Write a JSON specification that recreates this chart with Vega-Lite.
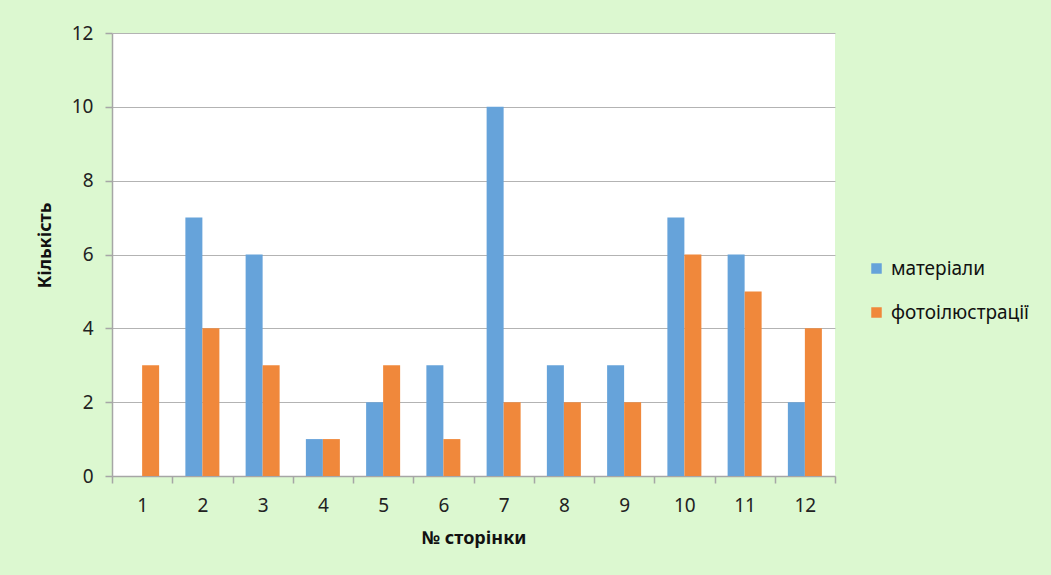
{
  "$schema": "https://vega.github.io/schema/vega-lite/v6.json",
  "autosize": {"type": "none"},
  "padding": {"left": 112, "top": 33, "right": 216, "bottom": 99},
  "width": 723,
  "height": 443,
  "background": "#dcf8d0",
  "config": {
    "view": {"fill": "#ffffff", "stroke": null},
    "font": "Noto Sans",
    "axis": {
      "labelFont": "Noto Sans",
      "titleFont": "Noto Sans",
      "labelColor": "#222222",
      "titleColor": "#111111",
      "domainColor": "#a6a6a6",
      "tickColor": "#a6a6a6",
      "gridColor": "#b3b3b3",
      "domainWidth": 1.5,
      "tickWidth": 1.5,
      "gridWidth": 1.2
    }
  },
  "data": {
    "values": [
      {"page": "1", "series": "матеріали", "value": 0},
      {"page": "1", "series": "фотоілюстрації", "value": 3},
      {"page": "2", "series": "матеріали", "value": 7},
      {"page": "2", "series": "фотоілюстрації", "value": 4},
      {"page": "3", "series": "матеріали", "value": 6},
      {"page": "3", "series": "фотоілюстрації", "value": 3},
      {"page": "4", "series": "матеріали", "value": 1},
      {"page": "4", "series": "фотоілюстрації", "value": 1},
      {"page": "5", "series": "матеріали", "value": 2},
      {"page": "5", "series": "фотоілюстрації", "value": 3},
      {"page": "6", "series": "матеріали", "value": 3},
      {"page": "6", "series": "фотоілюстрації", "value": 1},
      {"page": "7", "series": "матеріали", "value": 10},
      {"page": "7", "series": "фотоілюстрації", "value": 2},
      {"page": "8", "series": "матеріали", "value": 3},
      {"page": "8", "series": "фотоілюстрації", "value": 2},
      {"page": "9", "series": "матеріали", "value": 3},
      {"page": "9", "series": "фотоілюстрації", "value": 2},
      {"page": "10", "series": "матеріали", "value": 7},
      {"page": "10", "series": "фотоілюстрації", "value": 6},
      {"page": "11", "series": "матеріали", "value": 6},
      {"page": "11", "series": "фотоілюстрації", "value": 5},
      {"page": "12", "series": "матеріали", "value": 2},
      {"page": "12", "series": "фотоілюстрації", "value": 4}
    ]
  },
  "mark": {"type": "bar"},
  "encoding": {
    "x": {
      "field": "page",
      "type": "nominal",
      "sort": null,
      "scale": {"paddingInner": 0, "paddingOuter": 0},
      "axis": {
        "title": "№ сторінки",
        "titleFontSize": 18,
        "titleFontWeight": "bold",
        "titlePadding": 14,
        "labelAngle": 0,
        "labelFontSize": 19,
        "labelPadding": 13,
        "tickBand": "extent",
        "tickSize": 7,
        "grid": false
      }
    },
    "xOffset": {"field": "series", "type": "nominal", "sort": ["матеріали", "фотоілюстрації"], "scale": {"paddingInner": 0, "paddingOuter": 0.772}},
    "y": {
      "field": "value",
      "type": "quantitative",
      "scale": {"domain": [0, 12], "nice": false},
      "axis": {
        "title": "Кількість",
        "titleFontSize": 18,
        "titleFontWeight": "bold",
        "titlePadding": 17,
        "titleY": 212,
        "values": [0, 2, 4, 6, 8, 10, 12],
        "labelFontSize": 19,
        "labelPadding": 12,
        "tickSize": 7,
        "grid": true
      }
    },
    "color": {
      "field": "series",
      "type": "nominal",
      "sort": ["матеріали", "фотоілюстрації"],
      "scale": {"range": ["#66a3da", "#f0883b"]},
      "legend": {
        "title": null,
        "orient": "none",
        "legendX": 755,
        "legendY": 226,
        "symbolType": "square",
        "symbolSize": 110,
        "symbolStrokeWidth": 0,
        "labelFontSize": 19,
        "labelFont": "Noto Sans",
        "labelColor": "#111111",
        "rowPadding": 24,
        "padding": 0,
        "labelOffset": 5
      }
    }
  }
}
